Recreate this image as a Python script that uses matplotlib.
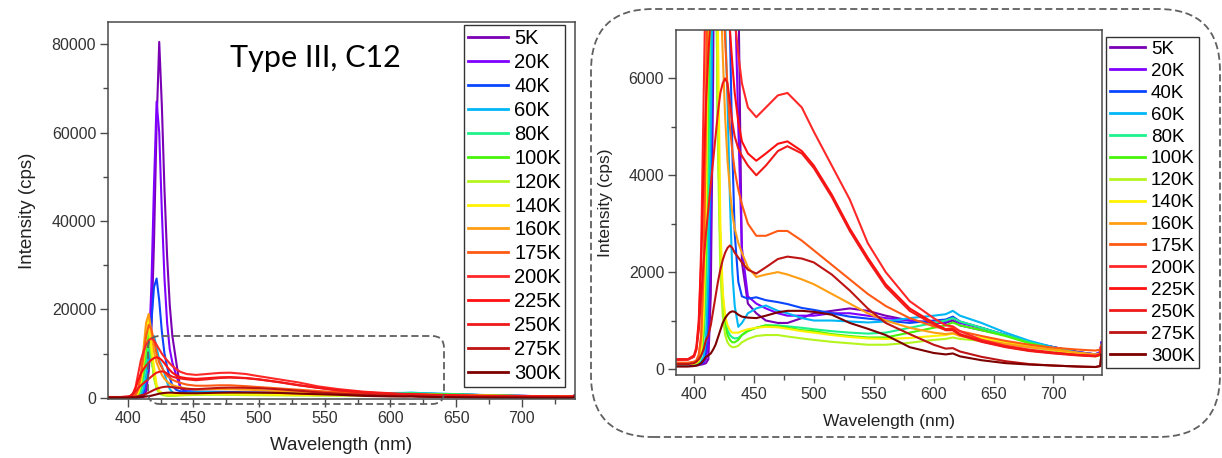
import matplotlib
matplotlib.use("Agg")
import matplotlib.pyplot as plt
from matplotlib.patches import FancyBboxPatch

W, H = 1222, 458

wavelength = [385, 395, 400, 402, 404, 406, 408, 410, 412, 414, 416, 418, 420, 422, 424, 426,
              428, 430, 432, 434, 437, 440, 445, 452, 460, 470, 478, 490, 500, 515, 530, 545,
              560, 580, 600, 610, 616, 622, 640, 660, 680, 700, 720, 735, 739, 740]

labels = ["5K", "20K", "40K", "60K", "80K", "100K", "120K", "140K", "160K", "175K",
          "200K", "225K", "250K", "275K", "300K"]

colors = ["#7A00B4", "#7F00FF", "#0A46FF", "#00B7F5", "#1EF28C", "#46F50A", "#B4F51E",
          "#FFF200", "#FF9E14", "#FF5A14", "#FF2828", "#FF0F0F", "#F01919", "#BE1414", "#7D0000"]

i_5K = [60, 60, 70, 70, 80, 90, 100, 120, 200, 1500, 6000, 15000, 35000, 62000, 80500, 66000,
        47000, 32000, 21000, 14000, 8000, 2200, 1350, 1150, 1000, 950, 950, 1050, 1150, 1200, 1250, 1200,
        1100, 1000, 950, 950, 1000, 900, 800, 700, 550, 450, 350, 300, 350, 550]
i_20K = [80, 80, 90, 90, 100, 110, 130, 200, 600, 3000, 10000, 25000, 48000, 67000, 60000, 42000,
         27000, 17000, 11000, 8000, 5000, 2500, 1500, 1350, 1250, 1150, 1100, 1100, 1100, 1150, 1150, 1100,
         1050, 1000, 950, 980, 1050, 950, 850, 700, 550, 450, 350, 300, 350, 550]
i_40K = [80, 80, 90, 90, 100, 110, 150, 400, 1300, 4000, 9000, 17000, 25000, 27000, 22000, 15000,
         10000, 7000, 4500, 2800, 1800, 1500, 1450, 1480, 1420, 1380, 1340, 1260, 1220, 1150, 1080, 1040,
         1000, 950, 1000, 1020, 1080, 980, 850, 700, 550, 450, 350, 300, 330, 500]
i_60K = [100, 100, 100, 110, 120, 150, 250, 600, 2000, 5000, 9000, 12500, 14000, 11500, 8500, 7200,
         5500, 3500, 2000, 1300, 870, 950, 1150, 1250, 1310, 1200, 1150, 1050, 1000, 1000, 980, 960,
         980, 1050, 1100, 1130, 1200, 1100, 950, 750, 580, 450, 330, 290, 320, 500]
i_80K = [100, 100, 110, 120, 150, 250, 600, 1500, 4000, 8000, 12000, 9000, 5000, 2500, 1500, 1000,
         800, 700, 650, 630, 640, 700, 800, 850, 900, 900, 880, 850, 820, 780, 750, 730,
         750, 850, 950, 1000, 1050, 980, 850, 700, 550, 420, 330, 280, 300, 450]
i_100K = [100, 100, 110, 120, 150, 300, 800, 2500, 6000, 11000, 14500, 10000, 5000, 2500, 1400, 900,
          700, 600, 550, 550, 600, 700, 780, 850, 900, 880, 850, 800, 780, 720, 680, 650,
          650, 750, 850, 900, 960, 900, 800, 680, 530, 420, 320, 270, 300, 450]
i_120K = [100, 100, 110, 120, 160, 350, 1000, 3000, 7500, 13000, 16000, 10000, 4500, 2000, 1100, 700,
          550, 480, 450, 450, 480, 550, 620, 680, 700, 700, 670, 630, 600, 560, 530, 500,
          500, 540, 600, 620, 650, 620, 580, 520, 450, 380, 300, 260, 280, 420]
i_140K = [100, 100, 120, 130, 180, 400, 1200, 3500, 9000, 16000, 18000, 12000, 7000, 3000, 1600, 1100,
          900, 800, 750, 750, 750, 780, 820, 850, 870, 860, 830, 780, 750, 700, 660, 630,
          620, 640, 680, 700, 730, 700, 640, 560, 480, 400, 320, 270, 300, 430]
i_160K = [110, 110, 130, 150, 250, 600, 2000, 5500, 11000, 17000, 19000, 15000, 10500, 8000, 6500, 5200,
          4300, 3700, 3200, 2900, 2600, 2400, 2100, 1900, 1950, 2000, 1950, 1850, 1750, 1550, 1350, 1150,
          1000, 850, 750, 720, 740, 680, 600, 520, 450, 400, 340, 300, 320, 450]
i_175K = [130, 130, 150, 180, 300, 700, 2000, 5000, 9500, 14000, 16500, 15500, 13000, 10000, 8000, 6800,
          5800, 5000, 4500, 4100, 3700, 3400, 3000, 2750, 2750, 2850, 2850, 2650, 2450, 2150, 1850, 1550,
          1300, 1050, 880, 820, 850, 780, 680, 580, 500, 440, 400, 380, 400, 500]
i_200K = [180, 190, 250, 400, 900, 2500, 5500, 8500, 10500, 12000, 13000, 13500, 13000, 12000, 11000, 10000,
          9200, 8500, 7800, 7200, 6500, 5900, 5400, 5200, 5400, 5650, 5700, 5400, 4900, 4200, 3500, 2600,
          2000, 1400, 1050, 900, 880, 780, 600, 480, 400, 340, 290, 270, 300, 450]
i_225K = [200, 200, 280, 450, 1000, 2200, 4000, 5500, 6500, 7300, 8000, 8600, 9000, 9200, 9000, 8500,
          7800, 7000, 6300, 5700, 5100, 4700, 4450, 4300, 4450, 4650, 4700, 4500, 4200, 3600, 2900, 2300,
          1750, 1250, 950, 820, 820, 720, 570, 460, 380, 330, 290, 270, 300, 450]
i_250K = [200, 200, 260, 400, 800, 1500, 2200, 2800, 3300, 3800, 4300, 4800, 5300, 5700, 5900, 6000,
          5900, 5500, 5100, 4800, 4550, 4400, 4200, 4000, 4200, 4500, 4600, 4450, 4150, 3550, 2850, 2250,
          1700, 1200, 920, 800, 800, 700, 560, 450, 370, 320, 280, 260, 290, 440]
i_275K = [100, 100, 120, 150, 200, 280, 400, 600, 700, 900, 1200, 1500, 1800, 2050, 2250, 2400,
          2500, 2550, 2500, 2400, 2300, 2200, 2050, 1970, 2100, 2270, 2320, 2280, 2200, 1950, 1620, 1250,
          950, 720, 500, 420, 430, 360, 250, 160, 100, 70, 50, 40, 60, 300]
i_300K = [50, 50, 60, 70, 90, 120, 180, 250, 280, 320, 400, 500, 650, 800, 950, 1050,
          1120, 1170, 1190, 1180, 1120, 1080, 1060, 1050, 1100, 1170, 1200, 1200, 1180, 1120, 950, 830,
          700, 450, 330, 300, 320, 260, 180, 120, 90, 70, 50, 40, 60, 300]

series = [i_5K, i_20K, i_40K, i_60K, i_80K, i_100K, i_120K, i_140K, i_160K, i_175K,
          i_200K, i_225K, i_250K, i_275K, i_300K]

x_ticks = [400, 450, 500, 550, 600, 650, 700]
left_yticks = [0, 20000, 40000, 60000, 80000]
right_yticks = [0, 2000, 4000, 6000]

plt.rcParams['font.family'] = ['Liberation Sans', 'DejaVu Sans']

fig = plt.figure(figsize=(W / 100, H / 100), dpi=100)


def ax_rect(x0, y0, x1, y1):
    return [x0 / W, 1 - y1 / H, (x1 - x0) / W, (y1 - y0) / H]


def style_axes(ax, yticks, ymin, ymax, yminor):
    ax.set_xlim(385, 740.5)
    ax.set_ylim(ymin, ymax)
    ax.set_xticks(x_ticks)
    ax.set_xticks(range(425, 740, 50), minor=True)
    ax.set_yticks(yticks)
    ax.set_yticks(yminor, minor=True)
    for s in ax.spines.values():
        s.set_color("#4a4a4a")
        s.set_linewidth(1.1)
    ax.tick_params(which="major", direction="out", length=5.5, width=1.0, color="#4a4a4a",
                   labelsize=11.5, labelcolor="#333333", pad=3)
    ax.tick_params(which="minor", direction="out", length=3.5, width=1.0, color="#4a4a4a")


# Left panel
axL = fig.add_axes(ax_rect(108, 22, 575, 399))
for lab, col, ys in zip(labels, colors, series):
    axL.plot(wavelength, ys, color=col, lw=1.5, label=lab)
style_axes(axL, left_yticks, -250, 85000, range(10000, 85000, 20000))
axL.set_xlabel("Wavelength (nm)", fontsize=13.5, color="#222222", labelpad=8)
axL.set_ylabel("Intensity (cps)", fontsize=13.5, color="#222222", labelpad=11)
axL.text(315 / W, 1 - 67 / H, "Type III, C12", transform=fig.transFigure, ha="center",
         va="baseline", fontsize=22, family=["Lato", "DejaVu Sans"], color="black")
legL = axL.legend(loc="upper left", bbox_to_anchor=(464 / W, 1 - 25 / H), bbox_transform=fig.transFigure,
                  borderaxespad=0, frameon=True, fancybox=False, edgecolor="black", fontsize=14.5,
                  handlelength=2.0, handletextpad=0.3, labelspacing=0.245, borderpad=0.2)
legL.get_frame().set_linewidth(1.0)
for l in legL.get_lines():
    l.set_linewidth(2.0)

# Right panel
axR = fig.add_axes(ax_rect(676, 30, 1102, 375))
for lab, col, ys in zip(labels, colors, series):
    axR.plot(wavelength, ys, color=col, lw=1.5, label=lab)
style_axes(axR, right_yticks, -125, 7000, range(1000, 7000, 2000))
axR.set_xlabel("Wavelength (nm)", fontsize=12.5, color="#222222", labelpad=9)
axR.set_ylabel("Intensity (cps)", fontsize=12.5, color="#222222", labelpad=11)
legR = axR.legend(loc="upper left", bbox_to_anchor=(1106 / W, 1 - 37 / H), bbox_transform=fig.transFigure,
                  borderaxespad=0, frameon=True, fancybox=False, edgecolor="black", fontsize=13.5,
                  handlelength=1.9, handletextpad=0.3, labelspacing=0.255, borderpad=0.2)
legR.get_frame().set_linewidth(1.0)
for l in legR.get_lines():
    l.set_linewidth(2.0)

# dashed rounded boxes (figure pixel coordinates)
def px_box(x0, y0, x1, y1, r):
    p = FancyBboxPatch((x0 / W, 1 - y1 / H), (x1 - x0) / W, (y1 - y0) / H,
                       boxstyle=f"round,pad=0,rounding_size={r / W}",
                       transform=fig.transFigure, fill=False, edgecolor="#606060",
                       linewidth=1.3, linestyle=(0, (4, 2)), mutation_aspect=W / H, zorder=10)
    fig.add_artist(p)

px_box(591, 9, 1220, 437, 62)
px_box(148, 336, 444, 404, 12)

fig.savefig("out.png", dpi=100)
